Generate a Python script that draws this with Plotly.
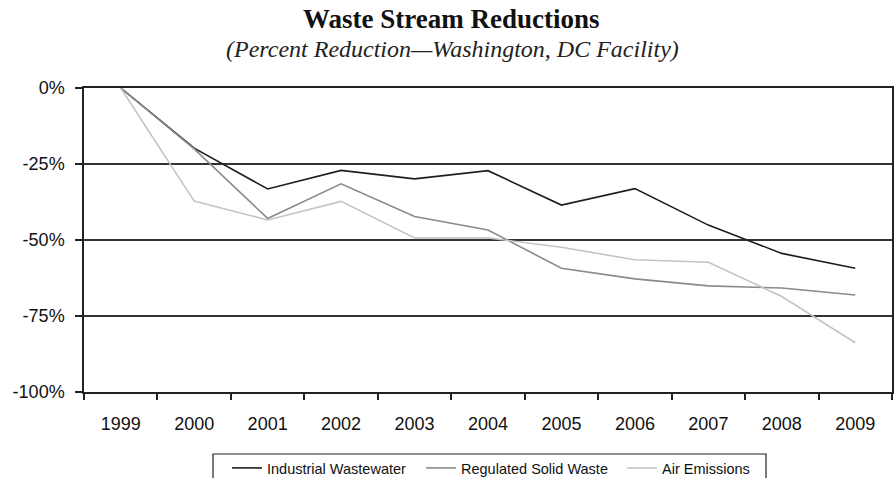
import plotly.graph_objects as go

years = ["1999", "2000", "2001", "2002", "2003", "2004", "2005", "2006", "2007", "2008", "2009"]
industrial_wastewater = [0, -19.8, -33.2, -27.1, -29.9, -27.2, -38.5, -33.1, -45.1, -54.4, -59.3]
regulated_solid_waste = [0, -20.0, -42.9, -31.5, -42.3, -46.7, -59.3, -62.8, -65.1, -65.8, -68.1]
air_emissions = [0, -37.2, -43.4, -37.3, -49.3, -49.3, -52.4, -56.5, -57.3, -68.6, -83.8]

y_tick_values = [0, -25, -50, -75, -100]
y_tick_labels = ["0%", "-25%", "-50%", "-75%", "-100%"]

# name, values, colour, legend slot, left edge of the legend entry (px)
series = [
    ("Industrial Wastewater", industrial_wastewater, "#1e1e1e", "legend", 227),
    ("Regulated Solid Waste", regulated_solid_waste, "#8a8a8a", "legend2", 421),
    ("Air Emissions", air_emissions, "#c4c4c4", "legend3", 622),
]

# plot area geometry in pixels
W, H = 894, 478
L, R, T, B = 84, 2, 88, 86
PW, PH = W - L - R, H - T - B


def px_x(px):
    return (px - L) / PW


def px_y(py):
    return (H - B - py) / PH


fig = go.Figure()
legend_layout = {}
for name, values, color, legend_id, entry_left in series:
    fig.add_trace(go.Scatter(
        x=years, y=values, name=name, mode="lines",
        line=dict(color=color, width=1.6), legend=legend_id,
    ))
    legend_layout[legend_id] = dict(
        orientation="h", x=px_x(entry_left), xanchor="left", y=px_y(452), yanchor="top",
        bgcolor="rgba(0,0,0,0)", borderwidth=0, font=dict(size=14.5),
    )

fig.update_layout(
    width=W, height=H,
    margin=dict(l=L, r=R, t=T, b=B, autoexpand=False),
    paper_bgcolor="white", plot_bgcolor="white",
    font=dict(family="Liberation Sans, Arial, sans-serif", color="#111"),
    showlegend=True,
    **legend_layout,
)

# frame around the legend
fig.add_shape(type="rect", xref="paper", yref="paper",
              x0=px_x(213), x1=px_x(766), y0=px_y(490), y1=px_y(454),
              line=dict(color="#222", width=1.2), fillcolor="rgba(0,0,0,0)", layer="below")

# title and subtitle
fig.add_annotation(text="<b>Waste Stream Reductions</b>", xref="paper", yref="paper",
                   x=px_x(451), y=px_y(19), showarrow=False, xanchor="center", yanchor="middle",
                   font=dict(family="Liberation Serif, serif", size=27, color="#111"))
fig.add_annotation(text="<i>(Percent Reduction—Washington, DC Facility)</i>", xref="paper", yref="paper",
                   x=px_x(452), y=px_y(49), showarrow=False, xanchor="center", yanchor="middle",
                   font=dict(family="Liberation Serif, serif", size=24, color="#222"))

fig.update_xaxes(
    type="category", range=[-0.5, 10.5], tickson="boundaries", ticks="outside", ticklen=6, tickwidth=1.5,
    tickcolor="#222", showline=True, linecolor="#222", linewidth=1.5, mirror=True,
    showgrid=False, tickfont=dict(size=18), ticklabelstandoff=15,
)
fig.update_yaxes(
    range=[-100, 0], tickvals=y_tick_values, ticktext=y_tick_labels,
    ticks="outside", ticklen=7, tickwidth=1.5, tickcolor="#222",
    showline=True, linecolor="#222", linewidth=1.5, mirror=True,
    showgrid=True, gridcolor="#333", gridwidth=1.5, zeroline=False,
    tickfont=dict(size=18), ticklabelstandoff=7,
)

fig.write_html("out.html")
